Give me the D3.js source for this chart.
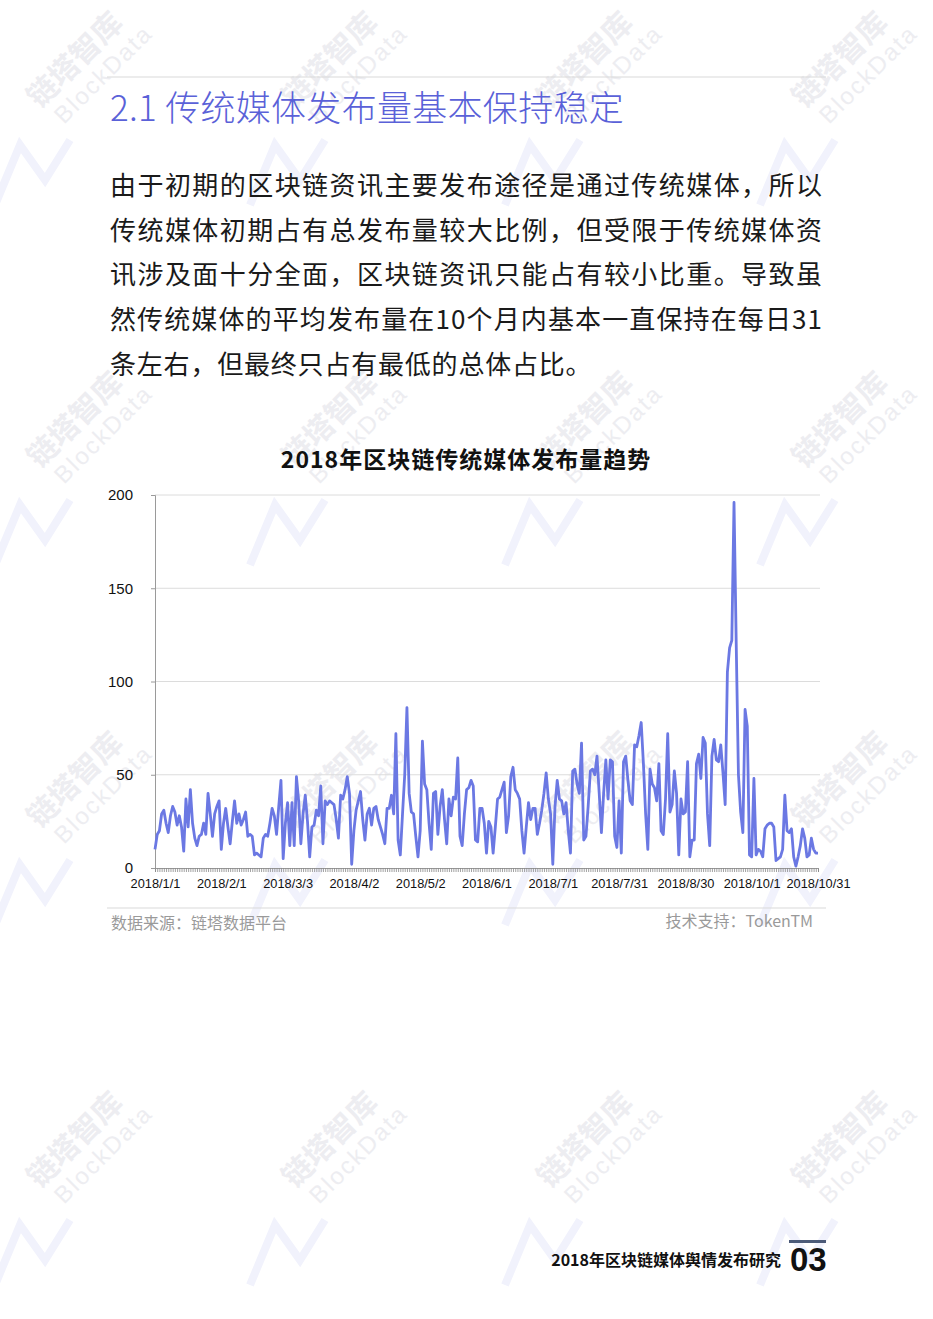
<!DOCTYPE html>
<html><head><meta charset="utf-8">
<script src="https://cdn.jsdelivr.net/npm/d3@7/dist/d3.min.js"></script>
<style>body{margin:0;background:#fff}svg{display:block}</style>
</head><body><svg id="c" width="933" height="1319"></svg>
<script>
// ---- data ----
const values = [
10,18,20,29,31,24,19,28,33,30,23,28,22,9,37,22,42,24,16,12,17,18,24,18,40,29,17,29,33,36,10,24,32,22,13,25,36,24,29,
23,26,30,17,18,17,7,8,7,6,16,18,17,24,32,28,18,33,47,5,24,35,12,35,12,49,36,13,29,39,25,6,22,23,31,28,44,13,36,
34,36,35,34,26,16,39,37,42,49,40,2,20,31,36,41,26,15,29,32,23,32,33,26,22,18,13,32,32,39,29,72,15,7,29,50,86,40,
30,29,17,6,20,68,45,42,24,10,40,41,18,33,42,26,13,37,28,38,37,59,17,12,29,42,43,47,44,15,14,32,32,24,8,25,22,8,
22,37,38,42,46,19,28,49,54,42,40,37,20,8,22,35,26,32,32,18,24,31,40,51,37,29,2,33,47,37,36,29,35,20,8,52,53,45,
40,67,15,17,33,52,53,50,60,40,19,40,58,37,58,57,17,11,36,8,57,60,47,36,34,66,65,71,78,56,29,10,53,45,43,36,56,
20,18,37,72,30,34,52,40,7,37,29,30,57,6,15,15,56,61,48,70,67,29,12,60,69,58,57,66,51,34,
105,118,122,196,120,50,30,19,85,76,7,6,48,7,10,9,6,21,23,24,24,22,4,5,6,10,39,20,19,21,6,1,6,12,21,16,6,7,16,10,8,8
];
const tickLabels = ["2018/1/1","2018/2/1","2018/3/3","2018/4/2","2018/5/2","2018/6/1","2018/7/1","2018/7/31","2018/8/30","2018/10/1","2018/10/31"];
const tickPositions = [0,30,60,90,120,150,180,210,240,270,300];
const yTicks = [0,50,100,150,200];
const heading = "2.1 传统媒体发布量基本保持稳定";
const paragraphLines = [
 "由于初期的区块链资讯主要发布途径是通过传统媒体，所以",
 "传统媒体初期占有总发布量较大比例，但受限于传统媒体资",
 "讯涉及面十分全面，区块链资讯只能占有较小比重。导致虽",
 "然传统媒体的平均发布量在10个月内基本一直保持在每日31",
 "条左右，但最终只占有最低的总体占比。"
];
const chartTitle = "2018年区块链传统媒体发布量趋势";
const sourceText = "数据来源：链塔数据平台";
const techText = "技术支持：TokenTM";
const footerText = "2018年区块链媒体舆情发布研究";
const pageNo = "03";

// ---- drawing ----
const svg = d3.select("#c");
const CJK = "'Noto Sans CJK SC','Noto Sans',sans-serif";
const LAT = "'Liberation Sans',Arial,'Noto Sans CJK SC',sans-serif";
svg.append("rect").attr("width",933).attr("height",1319).attr("fill","#fff");

// watermarks
const wm = svg.append("g");
for (let m=0;m<4;m++) for (let k=0;k<4;k++){
  const cx = 85 + 255*k, cy = 70 + 360*m;
  const lx = -5 + 255*k, ly = 160 + 360*m;
  wm.append("path")
    .attr("d",`M${lx},${ly+45} L${lx+25},${ly-15} L${lx+50},${ly+20} L${lx+75},${ly-20}`)
    .attr("fill","none").attr("stroke","#f1f2fc").attr("stroke-width",8).attr("stroke-linejoin","miter");
  const g = wm.append("g").attr("transform",`translate(${cx},${cy}) rotate(-45)`);
  g.append("text").attr("x",0).attr("y",-4).attr("text-anchor","middle")
    .attr("font-family",CJK).attr("font-size",30).attr("font-weight",700)
    .attr("fill","#ededf1").text("链塔智库");
  g.append("text").attr("x",10).attr("y",24).attr("text-anchor","middle")
    .attr("font-family",LAT).attr("font-size",24).attr("letter-spacing",2)
    .attr("fill","#ededf1").text("BlockData");
}

// top rule
svg.append("line").attr("x1",107).attr("x2",826).attr("y1",77).attr("y2",77)
  .attr("stroke","#d9d9d9").attr("stroke-width",1);

// heading
svg.append("text").attr("x",110).attr("y",121)
  .attr("font-family",CJK).attr("font-size",35).attr("font-weight",300)
  .attr("letter-spacing",0.3)
  .attr("fill","#5a61d8").text(heading);

// paragraph
paragraphLines.forEach((t,i)=>{
  const tx = svg.append("text").attr("x",110).attr("y",195 + i*44.7)
    .attr("font-family",CJK).attr("font-size",26).attr("fill","#1a1a1a").text(t);
  if (i<4) tx.attr("textLength",712).attr("lengthAdjust","spacing");
  else tx.attr("letter-spacing",0.8);
});

// chart title
svg.append("text").attr("x",466).attr("y",468).attr("text-anchor","middle")
  .attr("font-family",CJK).attr("font-size",23).attr("font-weight",700)
  .attr("letter-spacing",1)
  .attr("fill","#111").text(chartTitle);

const x = d3.scaleLinear().domain([0, values.length-1]).range([155, 818]);
const y = d3.scaleLinear().domain([0, 200]).range([868, 495]);

// gridlines
svg.append("g").selectAll("line").data(yTicks.filter(d=>d>0)).join("line")
  .attr("x1",155).attr("x2",820).attr("y1",d=>y(d)).attr("y2",d=>y(d))
  .attr("stroke","#dcdcdc").attr("stroke-width",1);

// y axis
const yAxis = svg.append("g").attr("transform","translate(155,0)")
  .call(d3.axisLeft(y).tickValues(yTicks).tickSize(4).tickPadding(18));
yAxis.select(".domain").attr("stroke","#9a9a9a");
yAxis.selectAll(".tick line").attr("stroke","#9a9a9a");
yAxis.selectAll("text").attr("font-family",LAT).attr("font-size",15).attr("fill","#111");

// x axis: dense ticks
const xMinor = svg.append("g").attr("transform","translate(0,868)")
  .call(d3.axisBottom(x).tickValues(d3.range(values.length)).tickSize(4).tickFormat(""));
xMinor.select(".domain").attr("stroke","#9a9a9a");
xMinor.selectAll(".tick line").attr("stroke","#8a8a8a").attr("stroke-width",0.8);
// x axis labels
const xLab = svg.append("g").attr("transform","translate(0,868)")
  .call(d3.axisBottom(x).tickValues(tickPositions).tickSize(0).tickPadding(11)
    .tickFormat((d,i)=>tickLabels[i]));
xLab.select(".domain").remove();
xLab.selectAll("text").attr("font-family",LAT).attr("font-size",12.8).attr("fill","#111");

// line
svg.append("path").datum(values)
  .attr("d", d3.line().x((d,i)=>x(i)).y(d=>y(d)))
  .attr("fill","none").attr("stroke","#6b78e3").attr("stroke-width",2.8)
  .attr("stroke-linejoin","round");

// bottom rule + sources
svg.append("line").attr("x1",107).attr("x2",826).attr("y1",908).attr("y2",908)
  .attr("stroke","#d9d9d9").attr("stroke-width",1);
svg.append("text").attr("x",111).attr("y",929)
  .attr("font-family",CJK).attr("font-size",16).attr("fill","#9a9a9a").text(sourceText);
svg.append("text").attr("x",813).attr("y",927).attr("text-anchor","end")
  .attr("font-family",CJK).attr("font-size",16).attr("fill","#9a9a9a").text(techText);

// footer
svg.append("text").attr("x",781).attr("y",1266).attr("text-anchor","end")
  .attr("font-family",CJK).attr("font-size",16).attr("font-weight",700)
  .attr("fill","#111").text(footerText);
svg.append("rect").attr("x",789).attr("y",1240).attr("width",37).attr("height",3).attr("fill","#4b5a78");
svg.append("text").attr("x",790).attr("y",1271)
  .attr("font-family",LAT).attr("font-size",33).attr("font-weight",700)
  .attr("fill","#111").text(pageNo);
</script>
</body></html>
